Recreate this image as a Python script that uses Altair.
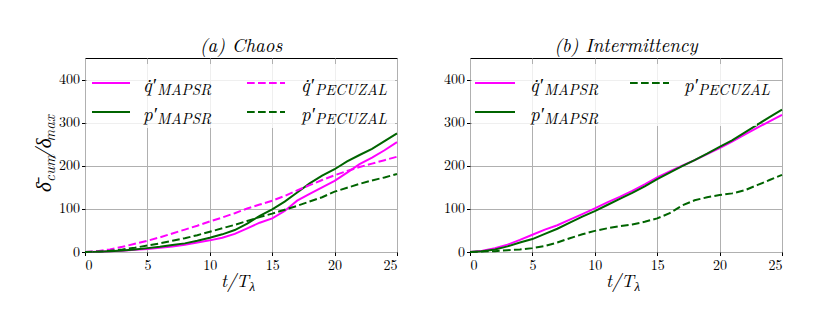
import altair as alt
import pandas as pd

t = list(range(26))

# (a) Chaos
chaos_q_mapsr = [0, 0.5, 1.5, 3, 5, 7, 10, 13, 17, 22, 27, 33, 42, 55, 68, 78, 95, 119, 135, 150, 165, 184, 204, 219, 236, 255]
chaos_p_mapsr = [0, 0.5, 2, 3.5, 6, 9, 12, 16, 20, 26, 33, 41, 51, 66, 84, 99, 117, 138, 159, 177, 192, 210, 225, 239, 257, 275]
chaos_q_pecuzal = [0, 2, 6, 12, 19, 26, 34, 43, 52, 61, 71, 80, 90, 101, 110, 119, 130, 143, 155, 167, 178, 188, 197, 205, 213, 221]
chaos_p_pecuzal = [0, 1, 3, 6, 10, 15, 20, 26, 32, 39, 47, 55, 63, 72, 81, 89, 98, 107, 117, 127, 140, 149, 158, 166, 173, 181]

# (b) Intermittency
inter_q_mapsr = [0, 3, 9, 17, 28, 40, 52, 62, 75, 88, 101, 115, 128, 142, 157, 173, 187, 200, 213, 227, 241, 256, 272, 288, 303, 318]
inter_p_mapsr = [0, 1.5, 6, 13, 22, 30, 42, 54, 68, 82, 95, 109, 123, 137, 152, 169, 184, 199, 213, 228, 244, 259, 277, 295, 313, 330]
inter_p_pecuzal = [0, 1, 2, 4, 6, 9, 14, 22, 32, 41, 49, 55, 60, 64, 70, 78, 90, 108, 120, 127, 132, 136, 143, 155, 167, 179]

x_ticks = [0, 5, 10, 15, 20, 25]
y_ticks = [0, 100, 200, 300, 400]

FONT = "Latin Modern Roman"
MAG = "#ff00ff"
GRN = "#006400"
DASH = [7.7, 3.3]
W, H = 312, 194


def line_layer(vals, color, dashed):
    df = pd.DataFrame({"t": t, "v": vals})
    kw = dict(color=color, strokeWidth=2)
    if dashed:
        kw["strokeDash"] = DASH
    return alt.Chart(df).mark_line(**kw).encode(
        x=alt.X("t:Q", scale=alt.Scale(domain=[0, 25], nice=False),
                axis=alt.Axis(values=x_ticks, title=None, format="d")),
        y=alt.Y("v:Q", scale=alt.Scale(domain=[0, 450], nice=False),
                axis=alt.Axis(values=y_ticks, title=None, format="d")),
    )


def txt(s, x, y, size, align="left", baseline="alphabetic", angle=0, italic=True):
    kw = dict(text=s, font=FONT, fontSize=size, align=align, baseline=baseline, color="black")
    if italic:
        kw["fontStyle"] = "italic"
    if angle:
        kw["angle"] = angle
    return alt.Chart().mark_text(**kw).encode(x=alt.value(x), y=alt.value(y))


def panel(series, legend_pos, title, box, left_anchor, right_anchor, ytitle):
    layers = []
    # invisible anchors for layout bounds
    layers.append(alt.Chart().mark_rule(opacity=0).encode(
        x=alt.value(left_anchor), y=alt.value(-49), y2=alt.value(0)))
    if right_anchor is not None:
        layers.append(alt.Chart().mark_rule(opacity=0).encode(
            x=alt.value(right_anchor), y=alt.value(0), y2=alt.value(10)))
    for vals, color, dashed, _, _ in series:
        layers.append(line_layer(vals, color, dashed))
    # legend background
    layers.append(alt.Chart().mark_rect(color="white", opacity=0.8).encode(
        x=alt.value(box[0]), x2=alt.value(box[1]), y=alt.value(box[2]), y2=alt.value(box[3])))
    for (vals, color, dashed, main, sub), (lx1, lx2, ly, tx, sx) in zip(series, legend_pos):
        kw = dict(color=color, strokeWidth=2)
        if dashed:
            kw["strokeDash"] = DASH
        layers.append(alt.Chart().mark_rule(**kw).encode(
            x=alt.value(lx1), x2=alt.value(lx2), y=alt.value(ly)))
        layers.append(txt(main, tx, ly + 9, 19))
        layers.append(txt(sub, sx, ly + 12, 15))
    # title
    layers.append(txt(title, W / 2, -12, 19, align="center", baseline="middle"))
    # x title
    layers.append(txt("t/T", 164, 229, 18, align="right"))
    layers.append(txt("λ", 164.5, 233, 13))
    if ytitle:
        cx = -40
        layers.append(txt("δ̄", cx, 134, 21, angle=270, baseline="middle"))
        layers.append(txt("cum", cx + 5, 124, 15, angle=270, baseline="middle"))
        layers.append(txt("/δ", cx, 101, 21, angle=270, baseline="middle"))
        layers.append(txt("max", cx + 5, 84, 15, angle=270, baseline="middle"))
    return alt.layer(*layers).properties(width=W, height=H)


left_series = [
    (chaos_q_mapsr, MAG, False, "q̇′", "MAPSR"),
    (chaos_p_mapsr, GRN, False, "p′", "MAPSR"),
    (chaos_q_pecuzal, MAG, True, "q̇′", "PECUZAL"),
    (chaos_p_pecuzal, GRN, True, "p′", "PECUZAL"),
]
left_leg = [
    (7, 45, 25, 58, 72),
    (7, 45, 54, 58, 72),
    (162, 200, 25, 216, 230),
    (162, 200, 54, 216, 230),
]
right_series = [
    (inter_q_mapsr, MAG, False, "q̇′", "MAPSR"),
    (inter_p_mapsr, GRN, False, "p′", "MAPSR"),
    (inter_p_pecuzal, GRN, True, "p′", "PECUZAL"),
]
right_leg = [
    (5, 45, 25, 60, 74),
    (5, 45, 54, 60, 74),
    (160, 199, 25, 214, 228),
]

left = panel(left_series, left_leg, "(a) Chaos", (2, 310, 6, 70), -76, 330, True)
right = panel(right_series, right_leg, "(b) Intermittency", (2, 287, 6, 68), -40, None, False)

chart = alt.hconcat(left, right, spacing=13).properties(padding=0, background="white").configure_view(
    stroke="black", strokeWidth=1
).configure_axis(
    domain=False, grid=True, gridColor="#b0b0b0", gridWidth=1,
    ticks=True, tickColor="black", tickSize=3.5, tickWidth=1,
    labelFont=FONT, labelFontSize=14, labelColor="black", labelPadding=2,
).configure_axisX(labelPadding=3)

chart.save("out.html", embed_options={"renderer": "svg", "actions": False})
